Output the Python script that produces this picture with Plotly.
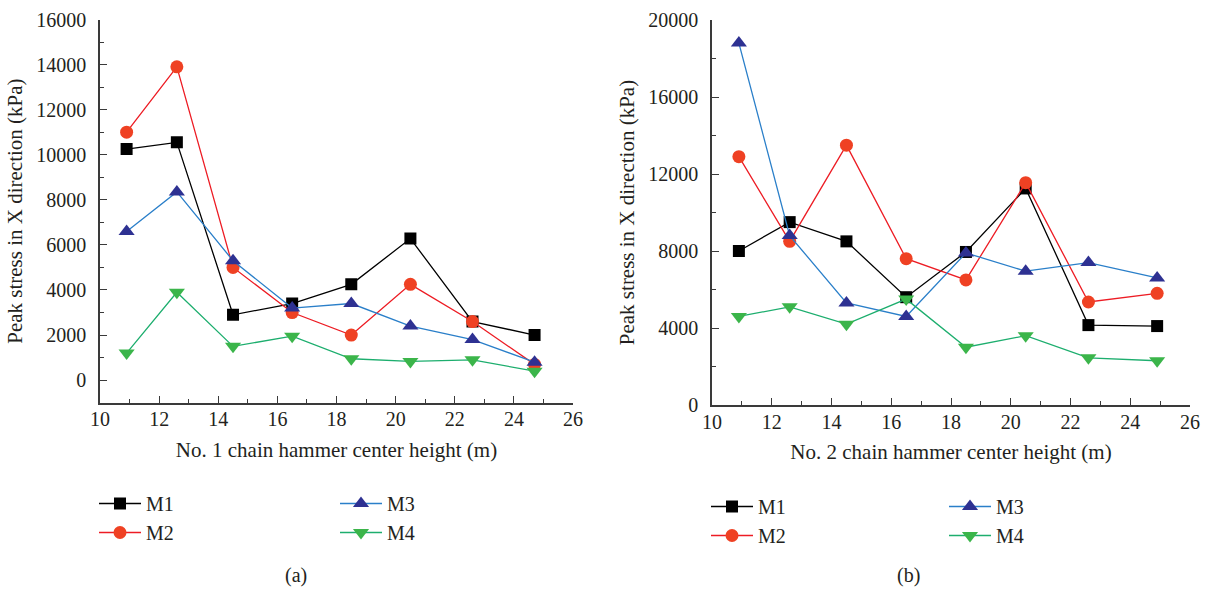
import plotly.graph_objects as go

# ---------------- data ----------------
x_a = [10.9, 12.6, 14.5, 16.5, 18.5, 20.5, 22.6, 24.7]
m1_a = [10250, 10550, 2900, 3400, 4250, 6280, 2600, 2000]
m2_a = [11000, 13900, 5000, 3000, 2000, 4250, 2600, 700]
m3_a = [6600, 8350, 5300, 3200, 3400, 2400, 1800, 800]
m4_a = [1200, 3900, 1500, 1950, 950, 830, 900, 400]

x_b = [10.9, 12.6, 14.5, 16.5, 18.5, 20.5, 22.6, 24.9]
m1_b = [8000, 9500, 8500, 5600, 7950, 11250, 4150, 4100]
m2_b = [12900, 8500, 13500, 7600, 6500, 11550, 5350, 5800]
m3_b = [18800, 8800, 5300, 4600, 7900, 6950, 7400, 6600]
m4_b = [4600, 5100, 4200, 5500, 3000, 3600, 2450, 2300]

series_names = ["M1", "M2", "M3", "M4"]
xtitle_a = "No. 1 chain hammer center height (m)"
xtitle_b = "No. 2 chain hammer center height (m)"
ytitle = "Peak stress in X direction (kPa)"

# ---------------- styles ----------------
FONT = "Liberation Serif"
TXT = "#231f20"
AX = "#3a3a3a"
styles = {
    "M1": dict(line="#000000", marker="#000000", symbol="square", size=12),
    "M2": dict(line="#ed1c24", marker="#ef4123", symbol="circle", size=13),
    "M3": dict(line="#2a7fc9", marker="#2e3192", symbol="triangle-up", size=14),
    "M4": dict(line="#1dae6e", marker="#3bb54a", symbol="triangle-down", size=14),
}

W, H = 1210, 591
fig = go.Figure()

panels = [
    ("x", "y", x_a, [m1_a, m2_a, m3_a, m4_a], ["legend", "legend", "legend2", "legend2"]),
    ("x2", "y2", x_b, [m1_b, m2_b, m3_b, m4_b], ["legend3", "legend3", "legend4", "legend4"]),
]
for xa, ya, xs, ys_list, legs in panels:
    for name, ys, leg in zip(series_names, ys_list, legs):
        s = styles[name]
        fig.add_trace(go.Scatter(
            x=xs, y=ys, name=name, mode="lines+markers",
            xaxis=xa, yaxis=ya, legend=leg, legendgroup=xa + name,
            line=dict(color=s["line"], width=1.3),
            marker=dict(color=s["marker"], symbol=s["symbol"], size=s["size"]),
        ))

def px2x(p):
    return p / W

def px2y(p):
    return 1 - p / H

TICKF = dict(family=FONT, size=20, color=TXT)
TITLEF = dict(family=FONT, size=21, color=TXT)

axis_common = dict(
    showgrid=False, zeroline=False, showline=True, linecolor=AX, linewidth=1.5,
    ticks="inside", ticklen=7, tickwidth=1.2, tickcolor=AX,
    tickfont=TICKF, tickformat="d",
    tickmode="linear", automargin=False,
)

fig.update_layout(
    width=W, height=H, margin=dict(l=0, r=0, t=0, b=0),
    paper_bgcolor="white", plot_bgcolor="white",
    font=dict(family=FONT, size=20, color=TXT),
    xaxis=dict(axis_common, domain=[px2x(100), px2x(573)], range=[10, 26], dtick=2, tick0=10,
               anchor="y", ticklabelstandoff=-2,
               minor=dict(ticks="inside", ticklen=4, dtick=1, tick0=10, tickcolor=AX),
               title=dict(text=xtitle_a, font=TITLEF, standoff=13)),
    yaxis=dict(axis_common, domain=[px2y(402.7), px2y(19.5)], range=[-1000, 16000], dtick=2000, tick0=0,
               anchor="x", ticklabelstandoff=8,
               minor=dict(ticks="inside", ticklen=4, dtick=1000, tick0=0, tickcolor=AX),
               title=dict(text=ytitle, font=TITLEF, standoff=8)),
    xaxis2=dict(axis_common, domain=[px2x(712), px2x(1190)], range=[10, 26], dtick=2, tick0=10,
                anchor="y2", ticklabelstandoff=-2,
                minor=dict(ticks="inside", ticklen=4, dtick=1, tick0=10, tickcolor=AX),
                title=dict(text=xtitle_b, font=TITLEF, standoff=13)),
    yaxis2=dict(axis_common, domain=[px2y(405), px2y(20)], range=[0, 20000], dtick=4000, tick0=0,
                anchor="x2", ticklabelstandoff=8,
                minor=dict(ticks="inside", ticklen=4, dtick=2000, tick0=0, tickcolor=AX),
                title=dict(text=ytitle, font=TITLEF, standoff=8)),
)

leg_common = dict(
    orientation="v", xanchor="left", yanchor="top", bgcolor="rgba(0,0,0,0)",
    font=dict(family=FONT, size=20, color=TXT), traceorder="grouped", tracegroupgap=0,
    itemsizing="trace", itemwidth=42,
)
fig.update_layout(
    legend=dict(leg_common, x=px2x(94), y=px2y(484)),
    legend2=dict(leg_common, x=px2x(335), y=px2y(484)),
    legend3=dict(leg_common, x=px2x(706), y=px2y(487)),
    legend4=dict(leg_common, x=px2x(944), y=px2y(487)),
)

for label, xc in [("(a)", 296), ("(b)", 908)]:
    fig.add_annotation(text=label, x=px2x(xc), y=px2y(575), xref="paper", yref="paper",
                       showarrow=False, xanchor="center", yanchor="middle",
                       font=dict(family=FONT, size=20, color=TXT))

fig.write_html("out.html")
